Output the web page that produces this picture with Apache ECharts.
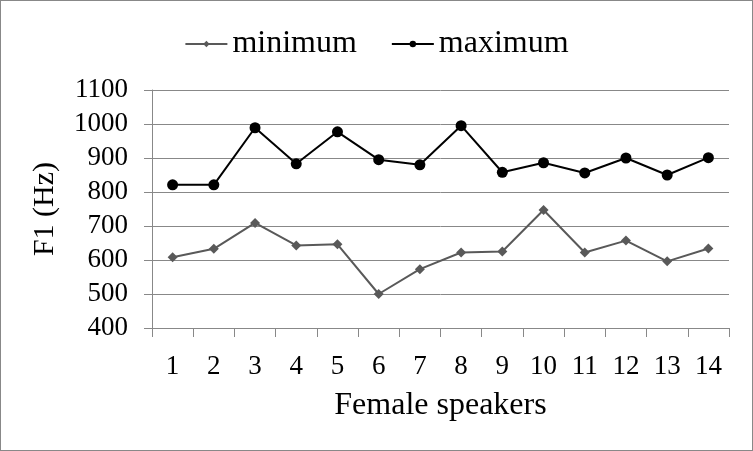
<!DOCTYPE html>
<html>
<head>
<meta charset="utf-8">
<style>
html, body { margin: 0; padding: 0; background: #fff; }
#chart { width: 751px; height: 449px; border: 1px solid #888; }
</style>
<script src="https://cdn.jsdelivr.net/npm/echarts@6/dist/echarts.min.js"></script>
</head>
<body>
<div id="chart"></div>
<script>
// 横坐标: 说话人编号
const speakers = ['1', '2', '3', '4', '5', '6', '7', '8', '9', '10', '11', '12', '13', '14']
const minimum = [608, 633, 709, 643, 646, 500, 573, 622, 625, 747, 622, 657, 596, 634]
const maximum = [821, 821, 989, 883, 977, 895, 880, 995, 858, 886, 856, 900, 850, 901]
const yTicks = [400, 500, 600, 700, 800, 900, 1000, 1100]

const font = 'Liberation Serif'
const option = {
  animation: false,
  textStyle: { fontFamily: font },
  legend: {
    top: 22,
    left: 'center',
    itemWidth: 42,
    itemHeight: 8,
    itemGap: 34,
    textStyle: { fontFamily: font, fontSize: 32, color: '#000' },
    data: ['minimum', 'maximum']
  },
  grid: { left: 151, right: 23, top: 89, bottom: 122 },
  xAxis: {
    type: 'category',
    data: speakers,
    name: 'Female speakers',
    nameLocation: 'middle',
    nameGap: 62,
    nameTextStyle: { fontFamily: font, fontSize: 32, color: '#000' },
    axisLine: { lineStyle: { color: '#888', width: 1 } },
    axisTick: { show: true, length: 9, lineStyle: { color: '#888' } },
    axisLabel: { fontFamily: font, fontSize: 27, color: '#000', margin: 25 }
  },
  yAxis: {
    type: 'value',
    min: yTicks[0],
    max: yTicks[yTicks.length - 1],
    interval: 100,
    name: 'F1 (Hz)',
    nameLocation: 'middle',
    nameGap: 92,
    nameTextStyle: { fontFamily: font, fontSize: 30, color: '#000' },
    axisLine: { show: true, lineStyle: { color: '#888', width: 1 } },
    axisTick: { show: true, length: 8, lineStyle: { color: '#888' } },
    axisLabel: { fontFamily: font, fontSize: 27, color: '#000', margin: 24, formatter: v => String(v) },
    splitLine: { lineStyle: { color: '#888', width: 1 } }
  },
  series: [
    {
      name: 'minimum',
      type: 'line',
      data: minimum,
      symbol: 'diamond',
      symbolSize: 10,
      color: '#595959',
      lineStyle: { width: 2, color: '#595959' },
      itemStyle: { color: '#595959' }
    },
    {
      name: 'maximum',
      type: 'line',
      data: maximum,
      symbol: 'circle',
      symbolSize: 11,
      color: '#000',
      lineStyle: { width: 2, color: '#000' },
      itemStyle: { color: '#000' }
    }
  ]
}
const myChart = echarts.init(document.getElementById('chart'))
myChart.setOption(option)
</script>
</body>
</html>
